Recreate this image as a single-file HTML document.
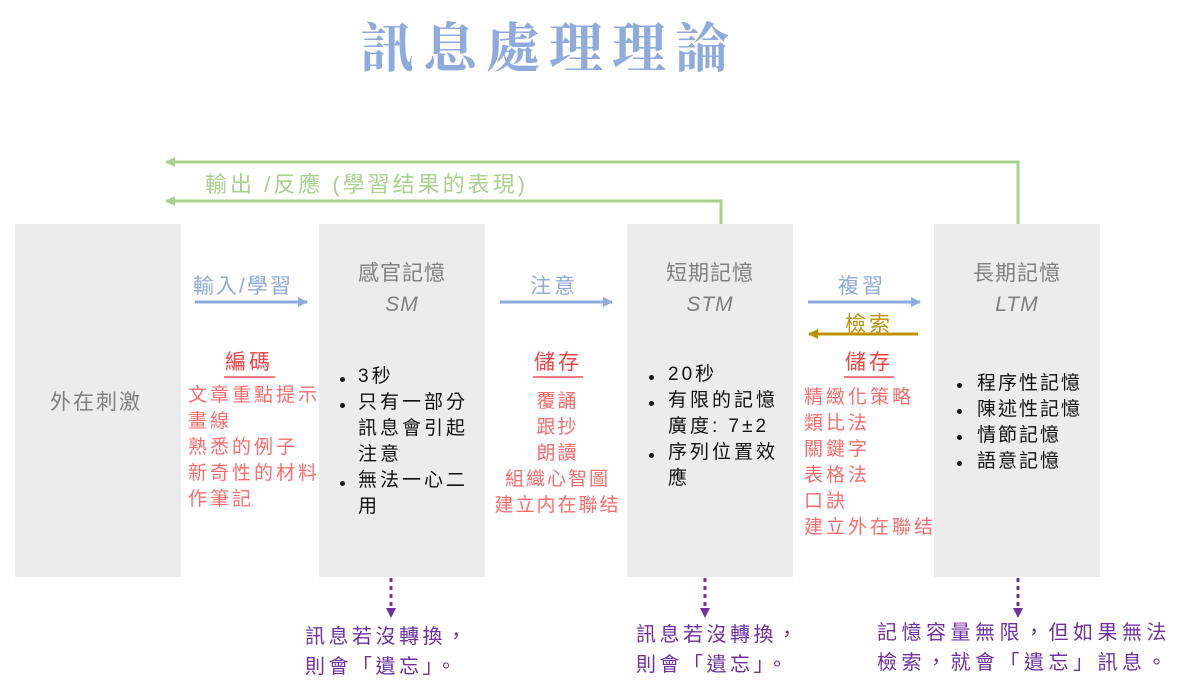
<!DOCTYPE html>
<html><head><meta charset="utf-8"><style>
body{margin:0;width:1188px;height:687px;background:#fff;position:relative;overflow:hidden;font-family:"Liberation Sans","Noto Sans CJK TC",sans-serif;}
.a{position:absolute;white-space:nowrap;}
.box{position:absolute;top:224px;height:353px;width:166px;background:#ececec;}
.h{color:#7f7f7f;font-size:21px;text-align:center;width:166px;line-height:31px;letter-spacing:1px}
.r{color:#ff6b6b;font-size:19px;line-height:26px;letter-spacing:3px}
.k{color:#111;font-size:19px;line-height:26px;letter-spacing:3px}
.p{color:#7030a0;font-size:20px;line-height:30px;letter-spacing:3.5px}
.b{position:absolute;width:5px;height:5px;border-radius:50%;background:#111}
</style></head><body>
<div class="a" style="left:360px;top:6px;font-size:54px;color:#8faadc;font-family:'Noto Serif CJK SC',serif;font-weight:bold;letter-spacing:9px">訊息處理理論</div>

<div class="box" style="left:15px"></div>
<div class="box" style="left:319px"></div>
<div class="box" style="left:627px"></div>
<div class="box" style="left:934px"></div>

<svg class="a" style="left:0;top:0" width="1188" height="687">
<defs>
<marker id="g" markerUnits="userSpaceOnUse" markerWidth="10" markerHeight="10" refX="9" refY="5" orient="auto"><path d="M0,0L10,5L0,10z" fill="#a9d18e"/></marker>
<marker id="b" markerUnits="userSpaceOnUse" markerWidth="10" markerHeight="10" refX="9" refY="5" orient="auto"><path d="M0,0L10,5L0,10z" fill="#8faadc"/></marker>
<marker id="y" markerUnits="userSpaceOnUse" markerWidth="10" markerHeight="10" refX="9" refY="5" orient="auto"><path d="M0,0L10,5L0,10z" fill="#bf9000"/></marker>
<marker id="pu" markerUnits="userSpaceOnUse" markerWidth="10" markerHeight="10" refX="9" refY="5" orient="auto"><path d="M0,0L10,5L0,10z" fill="#7030a0"/></marker>
</defs>
<g stroke="#a9d18e" stroke-width="3" fill="none">
<path d="M1018,224V162H166" marker-end="url(#g)"/>
<path d="M721,224V201H166" marker-end="url(#g)"/>
</g>
<g stroke="#8faadc" stroke-width="3">
<line x1="195" y1="302" x2="307" y2="302" marker-end="url(#b)"/>
<line x1="500" y1="302" x2="612" y2="302" marker-end="url(#b)"/>
<line x1="808" y1="302" x2="920" y2="302" marker-end="url(#b)"/>
</g>
<line x1="918" y1="334" x2="809" y2="334" stroke="#bf9000" stroke-width="3" marker-end="url(#y)"/>
<g stroke="#7030a0" stroke-width="3" stroke-dasharray="4,4">
<line x1="391" y1="578" x2="391" y2="617" marker-end="url(#pu)"/>
<line x1="705" y1="578" x2="705" y2="617" marker-end="url(#pu)"/>
<line x1="1018" y1="578" x2="1018" y2="617" marker-end="url(#pu)"/>
</g>
<g stroke="#ff5050" stroke-width="1.5">
<line x1="224" y1="377" x2="275" y2="377"/>
<line x1="533" y1="377" x2="583" y2="377"/>
<line x1="844" y1="377" x2="894" y2="377"/>
</g>
</svg>

<div class="a" style="left:205px;top:167px;font-size:22px;color:#a9d18e;letter-spacing:3px">輸出 /反應 (學習结果的表現)</div>

<div class="a" style="left:50px;top:386px;font-size:21px;color:#7f7f7f;letter-spacing:2px">外在刺激</div>

<div class="a h" style="left:319px;top:258px">感官記憶<br><i>SM</i></div>
<div class="a h" style="left:627px;top:258px">短期記憶<br><i>STM</i></div>
<div class="a h" style="left:934px;top:258px">長期記憶<br><i>LTM</i></div>

<div class="a" style="left:193px;top:270px;font-size:21px;color:#8faadc;letter-spacing:2px">輸入/學習</div>
<div class="a" style="left:530px;top:270px;font-size:21px;color:#8faadc;letter-spacing:3px">注意</div>
<div class="a" style="left:838px;top:270px;font-size:21px;color:#8faadc;letter-spacing:3px">複習</div>
<div class="a" style="left:845px;top:308px;font-size:21px;color:#bf9000;letter-spacing:3px">檢索</div>

<div class="a r" style="left:225px;top:350px;font-size:21px;color:#ff4040">編碼</div>
<div class="a r" style="left:188px;top:383px">文章重點提示<br>畫線<br>熟悉的例子<br>新奇性的材料<br>作筆記</div>

<div class="b" style="left:340px;top:377px"></div>
<div class="b" style="left:340px;top:403px"></div>
<div class="b" style="left:340px;top:481px"></div>
<div class="a k" style="left:358px;top:364px">3秒<br>只有一部分<br>訊息會引起<br>注意<br>無法一心二<br>用</div>

<div class="a r" style="left:534px;top:350px;font-size:21px;color:#ff4040">儲存</div>
<div class="a r" style="left:490px;top:389px;width:135px;text-align:center;letter-spacing:2px">覆誦<br>跟抄<br>朗讀<br>組織心智圖<br>建立内在聯结</div>

<div class="b" style="left:649px;top:375px"></div>
<div class="b" style="left:649px;top:401px"></div>
<div class="b" style="left:649px;top:453px"></div>
<div class="a k" style="left:668px;top:362px">20秒<br>有限的記憶<br>廣度: 7±2<br>序列位置效<br>應</div>

<div class="a r" style="left:845px;top:350px;font-size:21px;color:#ff4040">儲存</div>
<div class="a r" style="left:804px;top:385px">精緻化策略<br>類比法<br>關鍵字<br>表格法<br>口訣<br>建立外在聯结</div>

<div class="b" style="left:957px;top:383px"></div>
<div class="b" style="left:957px;top:409px"></div>
<div class="b" style="left:957px;top:435px"></div>
<div class="b" style="left:957px;top:461px"></div>
<div class="a k" style="left:977px;top:371px;letter-spacing:2px">程序性記憶<br>陳述性記憶<br>情節記憶<br>語意記憶</div>

<div class="a p" style="left:305px;top:622px">訊息若沒轉換，<br>則會「遺忘」。</div>
<div class="a p" style="left:636px;top:620px">訊息若沒轉換，<br>則會「遺忘」。</div>
<div class="a p" style="left:877px;top:618px;letter-spacing:4.5px">記憶容量無限，但如果無法<br>檢索，就會「遺忘」訊息。</div>
</body></html>
